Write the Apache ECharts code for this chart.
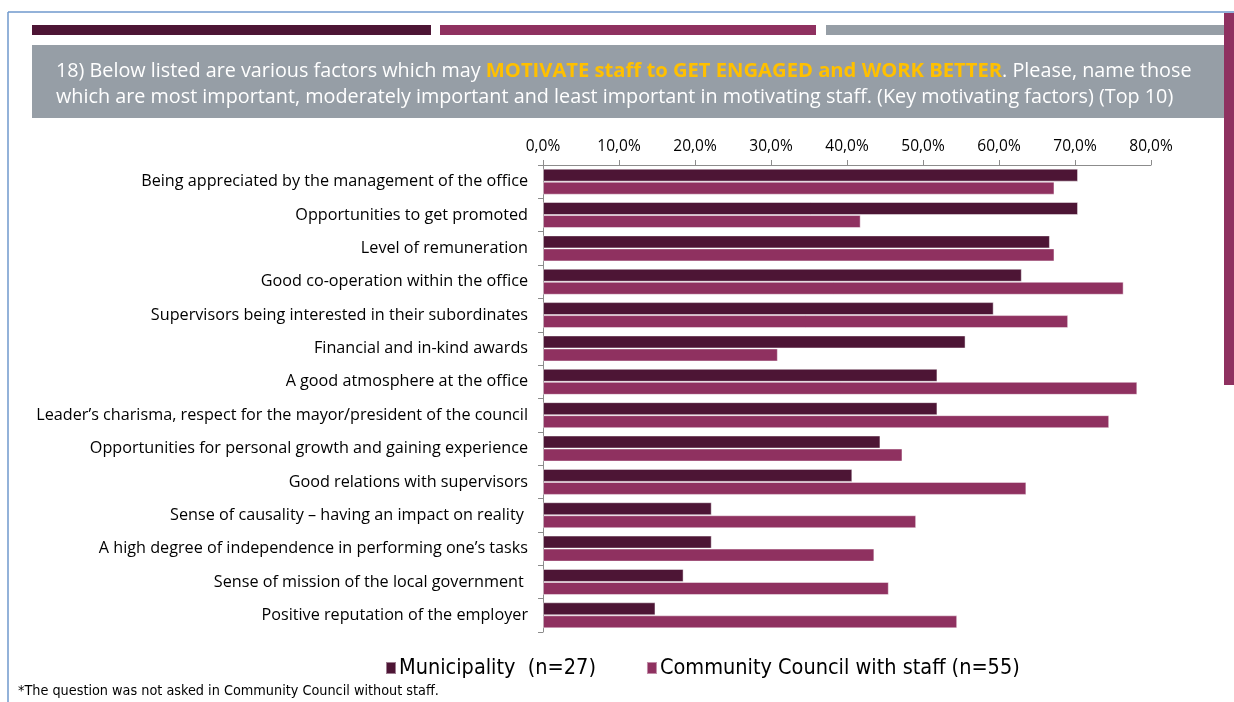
<!DOCTYPE html>
<html>
<head>
<meta charset="utf-8">
<script src="https://cdn.jsdelivr.net/npm/echarts@6/dist/echarts.min.js"></script>
<style>
  html, body { margin: 0; padding: 0; background: #fff; }
  #chart { width: 1234px; height: 702px; }
</style>
</head>
<body>
<div id="chart"></div>
<script>
// Motivating factors, share of respondents naming each one
const categories = [
  'Being appreciated by the management of the office',
  'Opportunities to get promoted',
  'Level of remuneration',
  'Good co-operation within the office',
  'Supervisors being interested in their subordinates',
  'Financial and in-kind awards',
  'A good atmosphere at the office',
  'Leader\u2019s charisma, respect for the mayor/president of the council',
  'Opportunities for personal growth and gaining experience',
  'Good relations with supervisors',
  'Sense of causality \u2013 having an impact on reality ',
  'A high degree of independence in performing one\u2019s tasks',
  'Sense of mission of the local government ',
  'Positive reputation of the employer'
];
const municipality = [0.704, 0.704, 0.667, 0.630, 0.593, 0.556, 0.519, 0.519, 0.444, 0.407, 0.222, 0.222, 0.185, 0.148];
const communityCouncil = [0.673, 0.418, 0.673, 0.764, 0.691, 0.309, 0.782, 0.745, 0.473, 0.636, 0.491, 0.436, 0.455, 0.545];
const seriesNames = ['Municipality  (n=27)', 'Community Council with staff (n=55)'];
const axisTicks = [0, 0.1, 0.2, 0.3, 0.4, 0.5, 0.6, 0.7, 0.8];

const DARK = '#4d1535';
const PINK = '#8f3160';
const GREY = '#969ea6';
const labelFont = '"Open Sans", "Noto Sans", sans-serif';
const narrowFont = '"DejaVu Sans Condensed", "Liberation Sans Narrow", sans-serif';

const chart = echarts.init(document.getElementById('chart'));

chart.setOption({
  animation: false,
  backgroundColor: '#ffffff',
  title: {
    left: 51,
    top: 53,
    text: '{w|18) Below listed are various factors which may }{y|MOTIVATE staff to GET ENGAGED and WORK BETTER}{w|. Please, name those}\n{w|which are most important, moderately important and least important in motivating staff. (Key motivating factors) (Top 10)}',
    textStyle: {
      fontWeight: 'normal',
      rich: {
        w: { color: '#ffffff', fontSize: 19.8, fontWeight: 'normal', fontFamily: labelFont, lineHeight: 26 },
        y: { color: '#ffc000', fontSize: 20.2, fontWeight: 'bold', fontFamily: labelFont, lineHeight: 26 }
      }
    }
  },
  graphic: [
    // outer frame lines
    { type: 'line', shape: { x1: 8, y1: 12, x2: 1234, y2: 12 }, style: { stroke: '#6f98cc', lineWidth: 1.5 }, z: 0 },
    { type: 'line', shape: { x1: 8, y1: 12, x2: 8, y2: 702 }, style: { stroke: '#6f98cc', lineWidth: 1.5 }, z: 0 },
    // coloured header stripes
    { type: 'rect', shape: { x: 32, y: 25, width: 399, height: 10 }, style: { fill: DARK }, z: 0 },
    { type: 'rect', shape: { x: 440, y: 25, width: 376, height: 10 }, style: { fill: PINK }, z: 0 },
    { type: 'rect', shape: { x: 826, y: 25, width: 408, height: 10 }, style: { fill: GREY }, z: 0 },
    // question box
    { type: 'rect', shape: { x: 32, y: 45, width: 1202, height: 73 }, style: { fill: GREY }, z: 0 },
    // side accent bar
    { type: 'rect', shape: { x: 1224, y: 13, width: 10, height: 372 }, style: { fill: PINK }, z: 1 },
    // footnote
    {
      type: 'text', left: 18, top: 684, z: 2,
      style: { text: '*The question was not asked in Community Council without staff.', fill: '#000', font: '14.3px ' + narrowFont }
    }
  ],
  legend: {
    top: 652,
    left: 380,
    itemWidth: 10,
    itemHeight: 12,
    itemGap: 50,
    icon: 'rect',
    data: seriesNames,
    textStyle: { fontSize: 21.5, fontFamily: narrowFont, color: '#000', padding: [0, 0, 0, -2] }
  },
  grid: { left: 543, right: 83, top: 165, bottom: 70, containLabel: false },
  xAxis: {
    type: 'value',
    position: 'top',
    min: axisTicks[0],
    max: axisTicks[axisTicks.length - 1],
    interval: 0.1,
    axisLine: { show: true, lineStyle: { color: '#8c8c8c', width: 1 } },
    axisTick: { show: true, length: 5, lineStyle: { color: '#8c8c8c' } },
    splitLine: { show: false },
    axisLabel: {
      color: '#000',
      fontSize: 15.5,
      fontFamily: labelFont,
      margin: 10,
      formatter: v => (v * 100).toFixed(1).replace('.', ',') + '%'
    }
  },
  yAxis: {
    type: 'category',
    inverse: true,
    data: categories,
    axisLine: { show: true, lineStyle: { color: '#8c8c8c', width: 1 } },
    axisTick: { show: true, length: 5, lineStyle: { color: '#8c8c8c' } },
    axisLabel: { color: '#000', fontSize: 16.2, fontFamily: labelFont, margin: 15 }
  },
  series: [
    {
      name: seriesNames[0], type: 'bar', data: municipality,
      barGap: '0%', barCategoryGap: '22%',
      itemStyle: { color: DARK, borderColor: 'rgba(255,255,255,0.45)', borderWidth: 1 }
    },
    {
      name: seriesNames[1], type: 'bar', data: communityCouncil,
      barGap: '0%', barCategoryGap: '22%',
      itemStyle: { color: PINK, borderColor: 'rgba(255,255,255,0.45)', borderWidth: 1 }
    }
  ]
});
</script>
</body>
</html>
